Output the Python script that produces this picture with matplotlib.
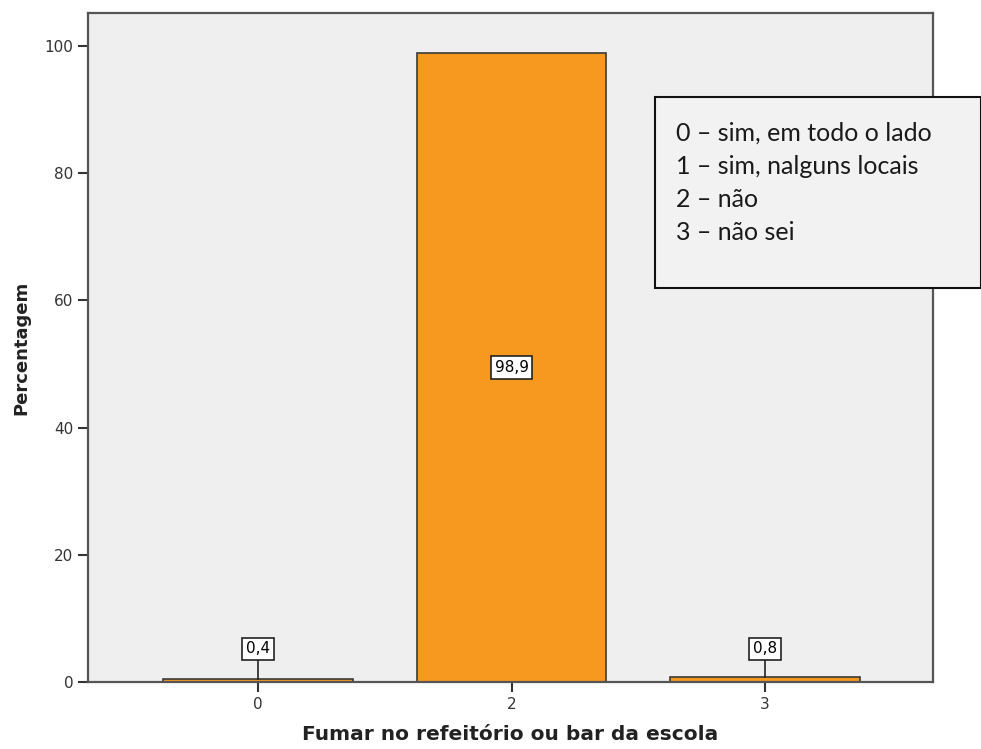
import matplotlib
matplotlib.use("Agg")
import matplotlib.pyplot as plt

categories = ["0", "2", "3"]
percent = [0.4, 98.9, 0.8]
value_labels = ["0,4", "98,9", "0,8"]
legend_lines = ["0 \u2013 sim, em todo o lado", "1 \u2013 sim, nalguns locais",
                "2 \u2013 n\u00e3o", "3 \u2013 n\u00e3o sei"]

fig = plt.figure(figsize=(9.81, 7.49), dpi=100)
ax = fig.add_axes([88 / 981, 1 - 682 / 749, (933 - 88) / 981, (682 - 13) / 749])
ax.set_facecolor("#efefef")

x = list(range(len(categories)))
ax.bar(x, percent, width=0.75, color="#f7981f", edgecolor="#3a3a3a", linewidth=1.2, zorder=2)

ax.set_xlim(-0.672, 2.664)
ax.set_ylim(0, 105.2)
ax.set_xticks(x)
ax.set_xticklabels(categories)
ax.set_yticks([0, 20, 40, 60, 80, 100])
ax.tick_params(axis="both", direction="out", length=7, width=1.5, color="#333333",
               labelsize=11, labelcolor="#333333")
for s in ax.spines.values():
    s.set_color("#555555")
    s.set_linewidth(1.6)

ax.set_ylabel("Percentagem", fontsize=13, fontweight="bold", labelpad=10, color="#222222")
ax.set_xlabel("Fumar no refeitório ou bar da escola", fontsize=14.5, fontweight="bold",
              labelpad=10, color="#222222")

box = dict(boxstyle="square,pad=0.25", fc="white", ec="#222222", lw=1.2)
for xi, v, lab in zip(x, percent, value_labels):
    if v > 10:
        ax.text(xi, v / 2, lab, ha="center", va="center", fontsize=11, bbox=box, zorder=4)
    else:
        ty = 5.2
        ax.plot([xi, xi], [v, ty], color="#222222", lw=1.2, zorder=3)
        ax.text(xi, ty, lab, ha="center", va="center", fontsize=11, bbox=box, zorder=4)

# caixa com a legenda dos códigos
lx0, ly0 = 655 / 981, 1 - 288 / 749
lw, lh = (981 - 655) / 981, (288 - 97) / 749
rect = plt.Rectangle((lx0, ly0), lw, lh, transform=fig.transFigure,
                     fc="#f2f2f2", ec="#111111", lw=1.5, zorder=5)
fig.patches.append(rect)
for i, line in enumerate(legend_lines):
    fig.text(676 / 981, 1 - (133 + 33 * i) / 749, line, fontsize=18, family="Lato",
             va="center", ha="left", color="#1a1a1a", zorder=6)

fig.savefig("out.png", dpi=100)
